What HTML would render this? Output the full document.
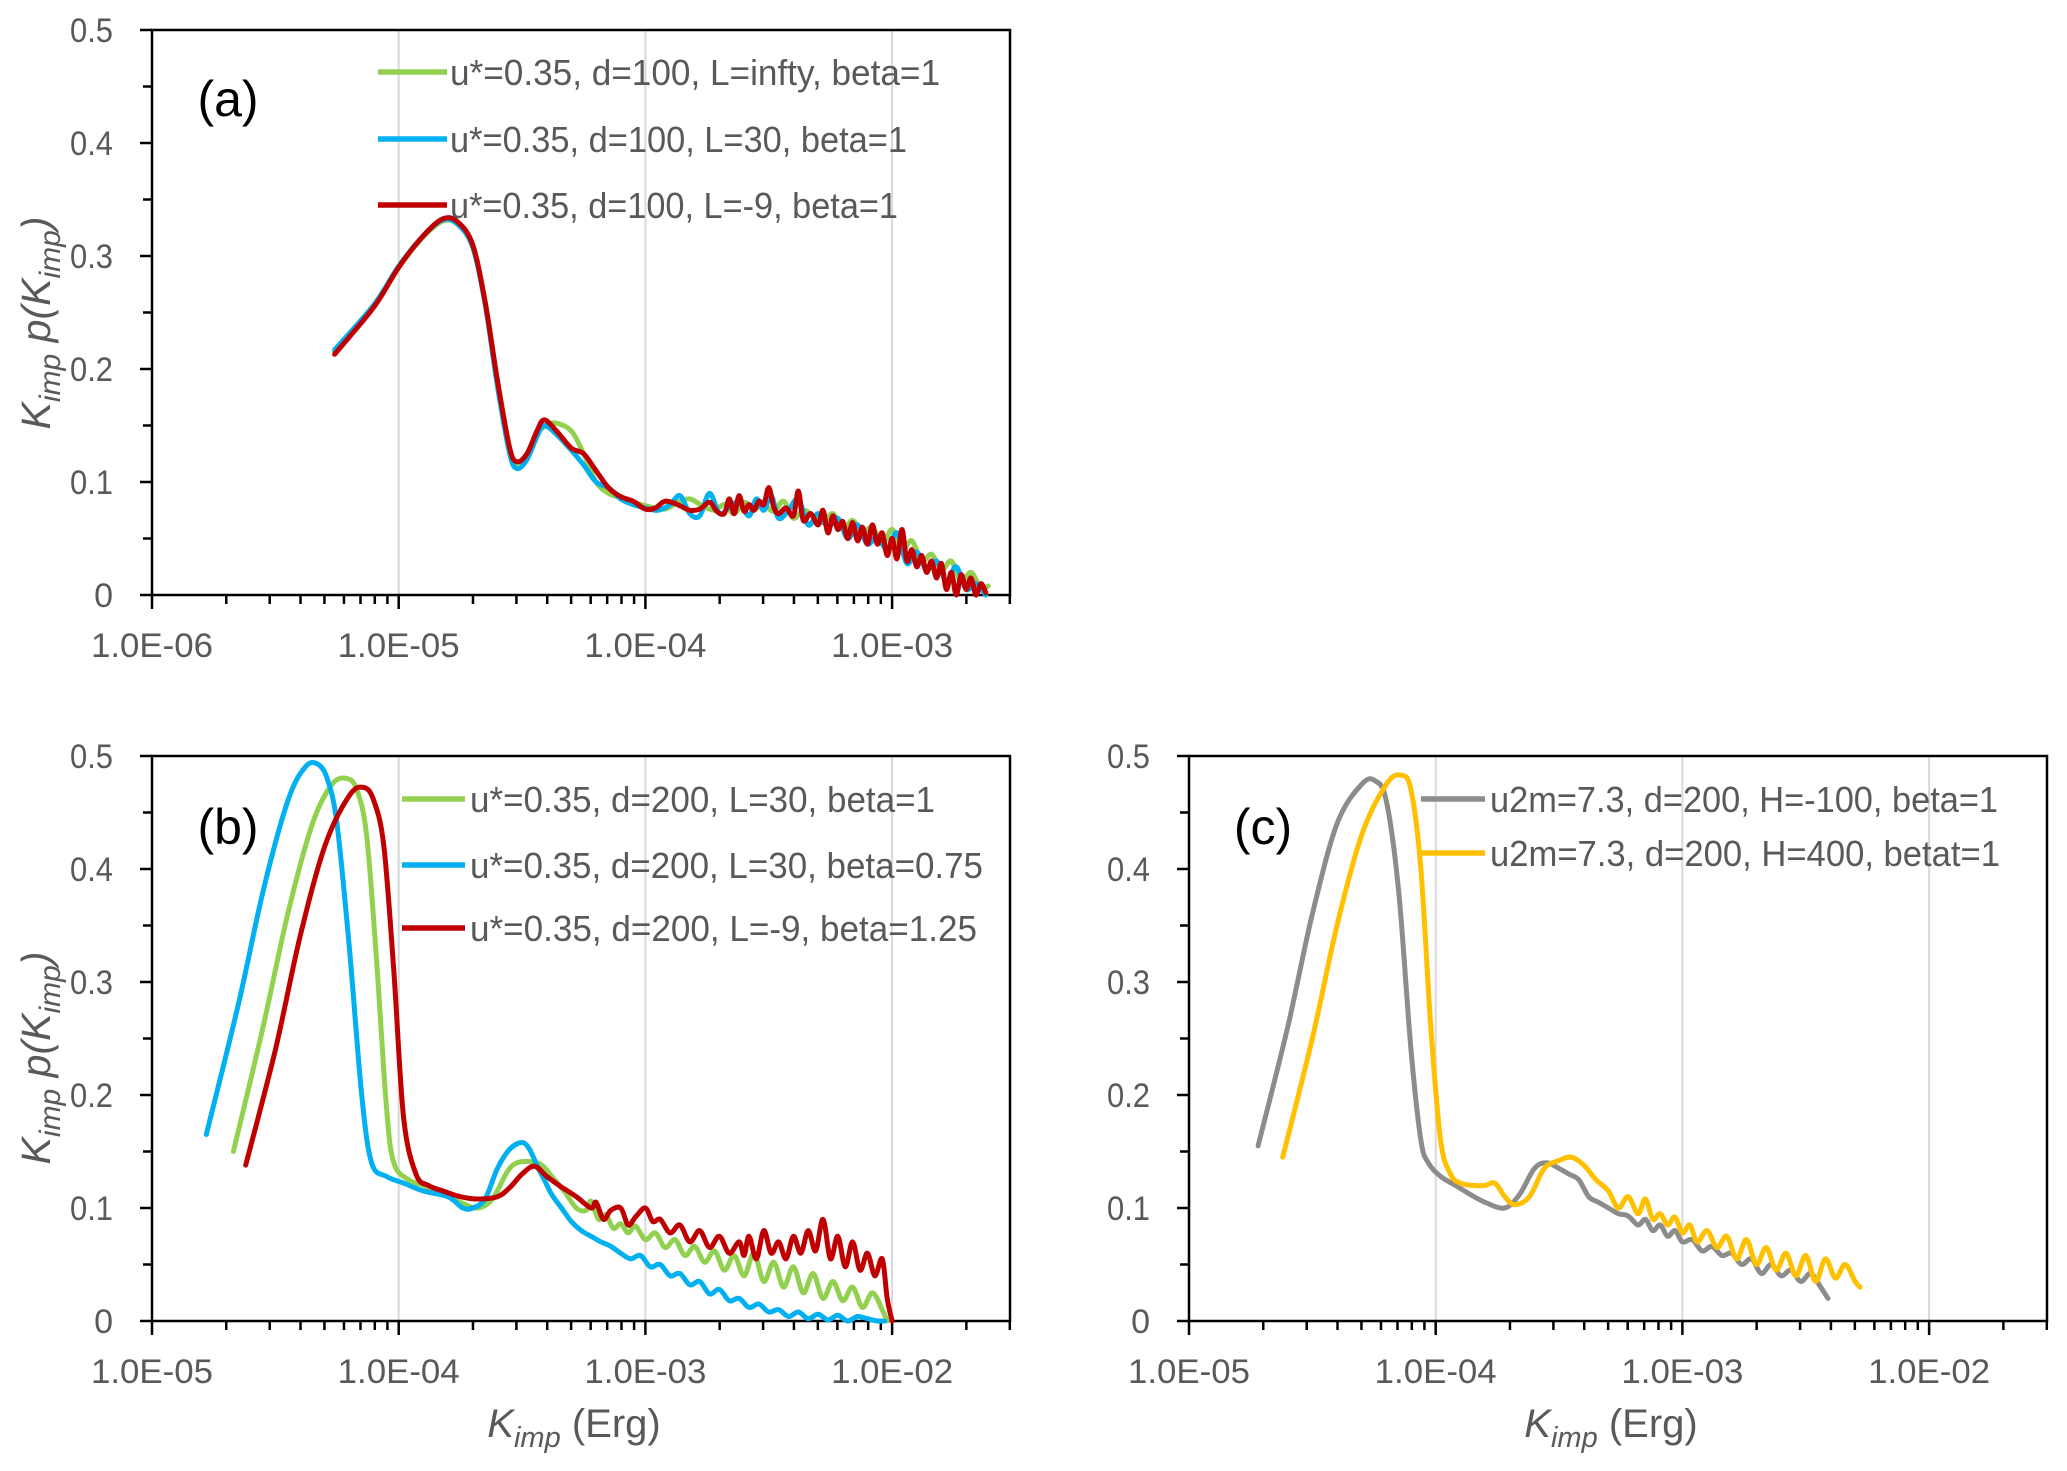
<!DOCTYPE html>
<html><head><meta charset="utf-8"><style>
html,body{margin:0;padding:0;background:#fff}
svg{display:block}
text{font-family:"Liberation Sans",sans-serif}
</style></head><body>
<svg id="fig" width="2067" height="1471" viewBox="0 0 2067 1471" xmlns="http://www.w3.org/2000/svg"></svg>
<script>
// ---------- data ----------
// panel (a)
const aRedX=[-5.26,-5.1,-5.0,-4.9,-4.82,-4.76,-4.7,-4.65,-4.6,-4.55,-4.52,-4.48,-4.44,-4.41,-4.36,-4.3,-4.25,-4.2,-4.15,-4.1,-4.05,-4.0,-3.96,-3.92,-3.87,-3.82,-3.78,-3.74,-3.71,-3.68,-3.66,-3.64,-3.62,-3.6,-3.58,-3.56,-3.54,-3.52,-3.5,-3.48,-3.46,-3.43,-3.4,-3.38,-3.36,-3.33,-3.3,-3.28,-3.26,-3.24,-3.22,-3.2,-3.18,-3.16,-3.14,-3.12,-3.1,-3.08,-3.06,-3.04,-3.02,-3.0,-2.98,-2.96,-2.94,-2.92,-2.9,-2.88,-2.86,-2.84,-2.82,-2.8,-2.78,-2.76,-2.74,-2.72,-2.7,-2.68,-2.66,-2.64,-2.62];
const aRedY=[0.213,0.255,0.29,0.318,0.333,0.33,0.31,0.26,0.19,0.13,0.118,0.125,0.145,0.155,0.145,0.13,0.125,0.11,0.095,0.087,0.083,0.076,0.077,0.083,0.08,0.075,0.076,0.082,0.074,0.072,0.085,0.072,0.088,0.074,0.08,0.075,0.083,0.08,0.095,0.078,0.072,0.077,0.07,0.092,0.066,0.072,0.062,0.075,0.055,0.07,0.058,0.065,0.05,0.064,0.048,0.06,0.045,0.062,0.045,0.055,0.035,0.05,0.032,0.058,0.03,0.04,0.025,0.035,0.02,0.03,0.015,0.028,0.005,0.02,0.0,0.018,0.005,0.015,0.0,0.01,0.002];
const aGreenX=[-5.26,-5.1,-5.0,-4.9,-4.82,-4.76,-4.7,-4.65,-4.6,-4.55,-4.52,-4.48,-4.44,-4.4,-4.36,-4.3,-4.25,-4.2,-4.15,-4.1,-4.05,-3.98,-3.92,-3.87,-3.82,-3.77,-3.72,-3.68,-3.64,-3.6,-3.56,-3.52,-3.48,-3.44,-3.4,-3.36,-3.32,-3.28,-3.24,-3.2,-3.16,-3.12,-3.08,-3.04,-3.0,-2.96,-2.92,-2.88,-2.84,-2.8,-2.76,-2.72,-2.68,-2.64,-2.61];
const aGreenY=[0.215,0.256,0.29,0.317,0.331,0.328,0.308,0.26,0.19,0.13,0.117,0.125,0.143,0.15,0.152,0.145,0.125,0.1,0.09,0.086,0.082,0.078,0.076,0.082,0.085,0.079,0.075,0.08,0.072,0.082,0.076,0.08,0.074,0.083,0.068,0.075,0.07,0.064,0.072,0.058,0.066,0.055,0.06,0.045,0.058,0.04,0.048,0.03,0.036,0.022,0.03,0.012,0.02,0.006,0.008];
const aBlueX=[-5.26,-5.1,-5.0,-4.9,-4.82,-4.76,-4.7,-4.65,-4.6,-4.55,-4.52,-4.48,-4.44,-4.41,-4.36,-4.3,-4.25,-4.2,-4.15,-4.1,-4.05,-4.0,-3.95,-3.9,-3.86,-3.82,-3.78,-3.74,-3.7,-3.66,-3.62,-3.58,-3.55,-3.52,-3.49,-3.46,-3.42,-3.38,-3.34,-3.3,-3.26,-3.22,-3.18,-3.14,-3.1,-3.06,-3.02,-2.98,-2.94,-2.9,-2.86,-2.82,-2.78,-2.74,-2.7,-2.66,-2.62];
const aBlueY=[0.217,0.257,0.291,0.318,0.332,0.328,0.308,0.258,0.185,0.125,0.112,0.12,0.14,0.15,0.142,0.128,0.115,0.1,0.095,0.085,0.08,0.077,0.075,0.08,0.088,0.072,0.07,0.09,0.072,0.078,0.082,0.07,0.085,0.075,0.088,0.068,0.075,0.085,0.062,0.072,0.06,0.068,0.05,0.062,0.045,0.052,0.04,0.055,0.028,0.038,0.022,0.03,0.012,0.025,0.005,0.01,0.0];
// panel (b)
const bBlueX=[-4.78,-4.65,-4.55,-4.45,-4.38,-4.33,-4.29,-4.25,-4.2,-4.15,-4.11,-4.05,-3.98,-3.9,-3.8,-3.74,-3.7,-3.65,-3.6,-3.55,-3.5,-3.47,-3.44,-3.41,-3.38,-3.34,-3.3,-3.26,-3.22,-3.18,-3.14,-3.1,-3.06,-3.02,-2.98,-2.94,-2.9,-2.86,-2.82,-2.78,-2.74,-2.7,-2.66,-2.62,-2.58,-2.54,-2.5,-2.46,-2.42,-2.38,-2.34,-2.3,-2.26,-2.22,-2.18,-2.14,-2.1,-2.06,-2.03];
const bBlueY=[0.165,0.28,0.38,0.46,0.49,0.493,0.48,0.44,0.33,0.2,0.14,0.128,0.122,0.115,0.11,0.1,0.1,0.108,0.135,0.152,0.158,0.152,0.138,0.125,0.112,0.1,0.088,0.08,0.075,0.07,0.066,0.06,0.055,0.058,0.048,0.05,0.04,0.042,0.032,0.035,0.024,0.028,0.018,0.02,0.012,0.015,0.008,0.01,0.004,0.008,0.002,0.006,0.001,0.005,0.0,0.004,0.002,0.0,0.0];
const bGreenX=[-4.67,-4.55,-4.45,-4.35,-4.27,-4.21,-4.17,-4.13,-4.09,-4.05,-4.02,-3.96,-3.9,-3.82,-3.75,-3.68,-3.62,-3.56,-3.52,-3.46,-3.42,-3.38,-3.33,-3.28,-3.24,-3.22,-3.19,-3.16,-3.13,-3.1,-3.07,-3.04,-3.0,-2.96,-2.92,-2.88,-2.84,-2.8,-2.76,-2.72,-2.68,-2.64,-2.6,-2.56,-2.52,-2.48,-2.44,-2.4,-2.36,-2.32,-2.28,-2.24,-2.2,-2.16,-2.12,-2.08,-2.04,-2.02];
const bGreenY=[0.15,0.26,0.36,0.44,0.475,0.48,0.47,0.43,0.32,0.19,0.14,0.125,0.12,0.112,0.105,0.1,0.108,0.132,0.14,0.141,0.138,0.128,0.115,0.1,0.098,0.106,0.09,0.094,0.082,0.086,0.078,0.084,0.072,0.078,0.065,0.072,0.058,0.066,0.052,0.062,0.045,0.058,0.04,0.06,0.035,0.052,0.03,0.048,0.025,0.042,0.02,0.035,0.018,0.03,0.012,0.025,0.01,0.0];
const bRedX=[-4.62,-4.5,-4.4,-4.3,-4.2,-4.14,-4.1,-4.06,-4.02,-3.98,-3.93,-3.88,-3.82,-3.75,-3.68,-3.6,-3.55,-3.5,-3.45,-3.4,-3.35,-3.28,-3.22,-3.2,-3.17,-3.14,-3.1,-3.07,-3.04,-3.0,-2.97,-2.94,-2.9,-2.86,-2.82,-2.78,-2.74,-2.7,-2.66,-2.62,-2.6,-2.58,-2.55,-2.52,-2.49,-2.46,-2.43,-2.4,-2.37,-2.34,-2.31,-2.28,-2.25,-2.22,-2.19,-2.16,-2.13,-2.1,-2.07,-2.04,-2.02,-2.0];
const bRedY=[0.138,0.24,0.34,0.42,0.465,0.472,0.46,0.42,0.31,0.18,0.13,0.12,0.115,0.11,0.108,0.11,0.118,0.13,0.137,0.128,0.12,0.11,0.1,0.105,0.09,0.098,0.1,0.085,0.092,0.1,0.088,0.09,0.078,0.085,0.07,0.08,0.065,0.075,0.06,0.07,0.058,0.075,0.055,0.08,0.06,0.07,0.055,0.075,0.06,0.08,0.062,0.09,0.055,0.075,0.048,0.07,0.045,0.06,0.04,0.055,0.02,0.0];
// panel (c)
const cGrayX=[-4.72,-4.6,-4.5,-4.4,-4.3,-4.245,-4.2,-4.15,-4.1,-4.06,-4.03,-3.98,-3.92,-3.86,-3.8,-3.72,-3.66,-3.6,-3.55,-3.5,-3.46,-3.42,-3.38,-3.34,-3.3,-3.26,-3.22,-3.18,-3.15,-3.12,-3.09,-3.06,-3.03,-3.0,-2.96,-2.92,-2.88,-2.84,-2.8,-2.76,-2.72,-2.68,-2.64,-2.6,-2.56,-2.52,-2.48,-2.44,-2.41];
const cGrayY=[0.155,0.26,0.36,0.44,0.475,0.478,0.46,0.38,0.24,0.16,0.14,0.128,0.12,0.112,0.105,0.1,0.112,0.135,0.14,0.135,0.13,0.125,0.11,0.105,0.1,0.095,0.093,0.085,0.09,0.08,0.085,0.075,0.08,0.07,0.072,0.062,0.066,0.058,0.06,0.05,0.055,0.042,0.05,0.04,0.045,0.035,0.042,0.03,0.02];
const cYellowX=[-4.62,-4.5,-4.4,-4.3,-4.2,-4.14,-4.1,-4.06,-4.02,-3.98,-3.94,-3.9,-3.85,-3.8,-3.76,-3.72,-3.68,-3.62,-3.56,-3.5,-3.45,-3.4,-3.35,-3.3,-3.26,-3.22,-3.18,-3.15,-3.12,-3.09,-3.06,-3.03,-3.0,-2.97,-2.94,-2.9,-2.86,-2.82,-2.78,-2.74,-2.7,-2.66,-2.62,-2.58,-2.54,-2.5,-2.46,-2.42,-2.38,-2.34,-2.3,-2.28];
const cYellowY=[0.145,0.25,0.35,0.43,0.475,0.483,0.47,0.4,0.26,0.16,0.13,0.122,0.12,0.12,0.122,0.11,0.103,0.11,0.135,0.142,0.145,0.138,0.125,0.115,0.1,0.11,0.095,0.108,0.09,0.095,0.085,0.092,0.078,0.085,0.07,0.08,0.065,0.075,0.055,0.072,0.05,0.065,0.045,0.06,0.04,0.058,0.035,0.055,0.038,0.05,0.035,0.03];
const yTicks=["0","0.1","0.2","0.3","0.4","0.5"];
const aXTicks=["1.0E-06","1.0E-05","1.0E-04","1.0E-03"];
const bcXTicks=["1.0E-05","1.0E-04","1.0E-03","1.0E-02"];

// ---------- drawing ----------
const NS="http://www.w3.org/2000/svg";
const svg=document.getElementById('fig');
function mk(tag,attrs,parent){const e=document.createElementNS(NS,tag);for(const k in attrs)e.setAttribute(k,attrs[k]);(parent||svg).appendChild(e);return e;}
const DEC=246.7, GRAY="#595959";
function panel(key,x0,x1,y0,y1,logMin,xlabels,series,legend,tag,showXTitle){
  const g=mk('g',{});
  
  
  const sx=l=>x0+(l-logMin)*DEC;
  const sy=v=>y1-(v/0.5)*(y1-y0);
  const logMax=logMin+(x1-x0)/DEC;
  for(let d=Math.ceil(logMin+0.001);d<logMax;d++){
    const gl=mk('line',{x1:sx(d),x2:sx(d),y1:y0,y2:y1,stroke:"#d9d9d9","stroke-width":2},g);
    
    
  }
  const fr=mk('rect',{x:x0,y:y0,width:x1-x0,height:y1-y0,fill:"none",stroke:"#000","stroke-width":2.5},g);
  
  
  for(let i=0;i<=10;i++){
    const v=i*0.05,y=sy(v);
    mk('line',{x1:x0-(i%2==0?12:9),x2:x0,y1:y,y2:y,stroke:"#000","stroke-width":2.5},g);
  }
  yTicks.forEach((t,i)=>{
    const attrs={x:x0-39,y:sy(i*0.1)+12,"text-anchor":"end","font-size":34,fill:GRAY};
    if(t.length>1){attrs.textLength=43;attrs.lengthAdjust="spacingAndGlyphs";}
    const tx=mk('text',attrs,g);
    tx.textContent=t;
    
    
  });
  for(let d=Math.floor(logMin);d<logMax+1;d++){
    for(let m=1;m<=9;m++){
      const l=d+Math.log10(m); if(l<logMin-1e-6||l>logMax+1e-6)continue;
      mk('line',{x1:sx(l),x2:sx(l),y1:y1,y2:y1+(m==1?14:9),stroke:"#000","stroke-width":2.5},g);
    }
  }
  xlabels.forEach((t,i)=>{
    const tx=mk('text',{x:sx(logMin+i),y:y1+62,"text-anchor":"middle","font-size":34,fill:GRAY,textLength:122,lengthAdjust:"spacingAndGlyphs"},g);
    tx.textContent=t;
    
    
  });
  const cp=mk('clipPath',{id:'clip'+key},g);
  mk('rect',{x:x0,y:y0-5,width:x1-x0,height:y1-y0+8},cp);
  series.forEach(s=>{
    const xs=s.x,ys=s.y;const P=xs.map((l,i)=>[sx(l),sy(ys[i])]);
    let d="M"+P[0][0].toFixed(1)+","+P[0][1].toFixed(1);
    for(let i=0;i<P.length-1;i++){
      const p0=P[Math.max(0,i-1)],p1=P[i],p2=P[i+1],p3=P[Math.min(P.length-1,i+2)];
      const c1=[p1[0]+(p2[0]-p0[0])/6,p1[1]+(p2[1]-p0[1])/6];
      const c2=[p2[0]-(p3[0]-p1[0])/6,p2[1]-(p3[1]-p1[1])/6];
      d+=" C"+c1[0].toFixed(1)+","+c1[1].toFixed(1)+" "+c2[0].toFixed(1)+","+c2[1].toFixed(1)+" "+p2[0].toFixed(1)+","+p2[1].toFixed(1);
    }
    const p=mk('path',{d:d,fill:"none",stroke:s.c,"stroke-width":5,"stroke-linejoin":"round","stroke-linecap":"round","clip-path":"url(#clip"+key+")"},g);
    
    
  });
  legend.forEach(L=>{
    const lg=mk('g',{},g);
    
    
    mk('line',{x1:L.lx0,x2:L.lx1,y1:L.y,y2:L.y,stroke:L.c,"stroke-width":5.5},lg);
    const tx=mk('text',{x:L.tx,y:L.y+13,"font-size":36,fill:GRAY,textLength:L.tw,lengthAdjust:"spacingAndGlyphs"},lg);
    tx.textContent=L.t;
  });
  const tg=mk('text',{x:tag[0],y:tag[1]+18,"text-anchor":"middle","font-size":50,fill:"#000"},g);
  tg.textContent=tag[2];
  
  
  if(showXTitle){
    const t=mk('text',{x:(x0+x1)/2-7,y:y1+116,"text-anchor":"middle","font-size":40,fill:GRAY},g);
    t.innerHTML='<tspan font-style="italic">K</tspan><tspan font-style="italic" font-size="29" dy="10">imp</tspan><tspan dy="-10"> (Erg)</tspan>';
    
    
  }
}
function ytitle(cy,name){
  const t=mk('text',{x:0,y:0,"text-anchor":"middle","font-size":41,fill:GRAY,"font-style":"italic",transform:"translate(50,"+cy+") rotate(-90)"});
  t.innerHTML='K<tspan font-size="30" dy="10">imp</tspan><tspan dy="-10"> p(K</tspan><tspan font-size="30" dy="10">imp</tspan><tspan dy="-10">)</tspan>';
  
  
}
panel('a',152,1010,30,595,-6,aXTicks,[
  {x:aGreenX,y:aGreenY,c:"#92D050",n:"a-linf"},
  {x:aBlueX,y:aBlueY,c:"#00B0F0",n:"a-l30"},
  {x:aRedX,y:aRedY,c:"#C00000",n:"a-lm9"}],
  [{lx0:378,lx1:447,tx:450,tw:490,y:72,c:"#92D050",t:"u*=0.35, d=100, L=infty, beta=1"},
   {lx0:378,lx1:447,tx:450,tw:457,y:139,c:"#00B0F0",t:"u*=0.35, d=100, L=30, beta=1"},
   {lx0:378,lx1:447,tx:450,tw:448,y:205,c:"#C00000",t:"u*=0.35, d=100, L=-9, beta=1"}],
  [228,98,"(a)"],false);
panel('b',152,1010,756,1321,-5,bcXTicks,[
  {x:bGreenX,y:bGreenY,c:"#92D050",n:"b-beta1"},
  {x:bBlueX,y:bBlueY,c:"#00B0F0",n:"b-beta075"},
  {x:bRedX,y:bRedY,c:"#C00000",n:"b-beta125"}],
  [{lx0:402,lx1:465,tx:470,tw:465,y:799,c:"#92D050",t:"u*=0.35, d=200, L=30, beta=1"},
   {lx0:402,lx1:465,tx:470,tw:513,y:865,c:"#00B0F0",t:"u*=0.35, d=200, L=30, beta=0.75"},
   {lx0:402,lx1:465,tx:470,tw:507,y:928,c:"#C00000",t:"u*=0.35, d=200, L=-9, beta=1.25"}],
  [228,826,"(b)"],true);
panel('c',1189,2047,756,1321,-5,bcXTicks,[
  {x:cGrayX,y:cGrayY,c:"#8C8C8C",n:"c-hm100"},
  {x:cYellowX,y:cYellowY,c:"#FFC000",n:"c-h400"}],
  [{lx0:1421,lx1:1485,tx:1490,tw:508,y:799,c:"#8C8C8C",t:"u2m=7.3, d=200, H=-100, beta=1"},
   {lx0:1421,lx1:1485,tx:1490,tw:510,y:853,c:"#FFC000",t:"u2m=7.3, d=200, H=400, betat=1"}],
  [1263,826,"(c)"],true);
ytitle(323,'y-axis-title-a');
ytitle(1058,'y-axis-title-b');
</script>
</body></html>
